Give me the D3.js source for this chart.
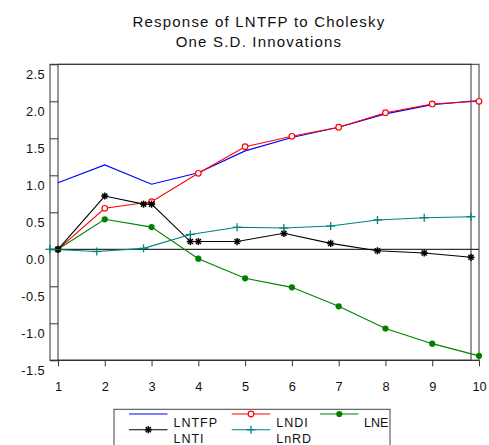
<!DOCTYPE html>
<html><head><meta charset="utf-8">
<script src="https://cdn.jsdelivr.net/npm/d3@7"></script>
<style>
body{margin:0;background:#fff;}
svg{display:block;font-family:"Liberation Sans",Arial,sans-serif;}
</style></head>
<body><svg id="c" width="489" height="445"></svg>
<script>
const periods = [1,2,3,4,5,6,7,8,9,10];
const yTicks = [-1.5,-1.0,-0.5,0.0,0.5,1.0,1.5,2.0,2.5];
const lntfp = [0.90,1.14,0.88,1.035,1.33,1.51,1.65,1.83,1.955,2.01];
const lndi  = [0.0,0.554,0.643,1.027,1.387,1.527,1.649,1.846,1.964,2.0];
const lne   = [0.0,0.405,0.30,-0.127,-0.392,-0.514,-0.77,-1.07,-1.275,-1.44];
const lnti  = [0.0,0.72,0.61,0.105,0.105,0.216,0.08,-0.02,-0.05,-0.108];
const lnrd  = [0.0,-0.03,0.013,0.20,0.297,0.288,0.315,0.396,0.427,0.44];
// which horizontal grid each LNTI point is drawn on (the picture has two offset frames)
const lntiGrid = ["main","main","both","both","lag","lag","lag","lag","lag","lag"];
const title = ["Response of LNTFP to Cholesky","One S.D. Innovations"];

const svg = d3.select("#c");
const y = d3.scaleLinear().domain([-1.5,2.5]).range([360.3,64.3]);
const xMain = d3.scaleLinear().domain([1,10]).range([58,479]);
const xLag = d3.scaleLinear().domain([1,10]).range([50,471]);
const frameCol = "#333";
const txtCol = "#111";

// title
svg.selectAll("text.title").data(title).enter().append("text")
  .attr("x",259).attr("y",(d,i)=>27.3+i*19.4).attr("text-anchor","middle")
  .attr("font-size",15).attr("letter-spacing",1.2).attr("fill",txtCol).text(d=>d);

// zero line
svg.append("line").attr("x1",50).attr("x2",479).attr("y1",y(0)).attr("y2",y(0))
  .attr("stroke","#000").attr("stroke-width",1);

// frames (two offset rectangles)
[xLag, xMain].forEach(s=>{
  svg.append("rect").attr("x",s(1)).attr("y",y(2.5)).attr("width",s(10)-s(1)).attr("height",y(-1.5)-y(2.5))
    .attr("fill","none").attr("stroke",frameCol).attr("stroke-width",1);
});
svg.append("line").attr("x1",50).attr("x2",479).attr("y1",y(-1.5)).attr("y2",y(-1.5)).attr("stroke",frameCol);

// y axis
const yAx = svg.append("g").attr("transform",`translate(50,0)`)
  .call(d3.axisLeft(y).tickValues(yTicks).tickSizeInner(-8).tickSizeOuter(0).tickPadding(5).tickFormat(d=>d.toFixed(1)));
yAx.select(".domain").remove();
yAx.selectAll("line").attr("stroke",frameCol);
yAx.selectAll("text").attr("dy","1.12em").attr("font-size",12.8).attr("letter-spacing",0.4)
  .attr("fill",txtCol).attr("font-family","Liberation Sans, Arial, sans-serif");

// x axis
const xAx = svg.append("g").attr("transform",`translate(0,${y(-1.5)})`)
  .call(d3.axisBottom(xMain).tickValues(periods).tickSizeInner(6).tickSizeOuter(0).tickPadding(16).tickFormat(d3.format("d")));
xAx.select(".domain").remove();
xAx.selectAll("line").attr("stroke",frameCol);
xAx.selectAll("text").attr("font-size",12.8).attr("fill",txtCol).attr("font-family","Liberation Sans, Arial, sans-serif");

// marker helpers
function asterisk(g,cx,cy,col){
  const r=3.6;
  [0,45,90,135].forEach(a=>{
    const t=a*Math.PI/180;
    g.append("line").attr("x1",cx-r*Math.cos(t)).attr("y1",cy-r*Math.sin(t))
      .attr("x2",cx+r*Math.cos(t)).attr("y2",cy+r*Math.sin(t))
      .attr("stroke",col).attr("stroke-width",1.5);
  });
}
function plus(g,cx,cy,col){
  g.append("line").attr("x1",cx-4.5).attr("x2",cx+4.5).attr("y1",cy).attr("y2",cy).attr("stroke",col).attr("stroke-width",1.3);
  g.append("line").attr("x1",cx).attr("x2",cx).attr("y1",cy-4).attr("y2",cy+4).attr("stroke",col).attr("stroke-width",1.3);
}
function openCircle(g,cx,cy,col){
  g.append("circle").attr("cx",cx).attr("cy",cy).attr("r",2.8).attr("fill","#fff").attr("stroke",col).attr("stroke-width",1.2);
}
function dot(g,cx,cy,col){
  g.append("circle").attr("cx",cx).attr("cy",cy).attr("r",3.1).attr("fill",col);
}

const line = d3.line().x(d=>d[0]).y(d=>d[1]);
const plot = svg.append("g");

function series(vals,xs,col,marker){
  const pts = vals.map((v,i)=>[xs(periods[i]),y(v)]);
  plot.append("path").attr("d",line(pts)).attr("fill","none").attr("stroke",col).attr("stroke-width",1.1);
  if(marker) pts.forEach(p=>marker(plot,p[0],p[1],col));
}
series(lntfp,xMain,"#0000ff",null);
series(lndi,xMain,"#ff0000",openCircle);
series(lne,xMain,"#008000",dot);

// LNTI: mixed grids
const lntiPts=[];
lnti.forEach((v,i)=>{
  const g=lntiGrid[i];
  if(g==="lag"||g==="both") lntiPts.push([xLag(periods[i]),y(v)]);
  if(g==="main"||g==="both") lntiPts.push([xMain(periods[i]),y(v)]);
});
plot.append("path").attr("d",line(lntiPts)).attr("fill","none").attr("stroke","#000").attr("stroke-width",1.1);
lntiPts.forEach(p=>asterisk(plot,p[0],p[1],"#000"));

series(lnrd,xLag,"#008080",plus);

// legend
const leg = svg.append("g");
leg.append("rect").attr("x",114).attr("y",409.3).attr("width",276).attr("height",60)
  .attr("fill","none").attr("stroke","#444").attr("stroke-width",1);
const legItems = [
  {name:"LNTFP",col:"#0000ff",m:null,x:129,row:0},
  {name:"LNDI",col:"#ff0000",m:openCircle,x:231.7,row:0},
  {name:"LNE",col:"#008000",m:dot,x:320,row:0},
  {name:"LNTI",col:"#000",m:asterisk,x:129,row:1},
  {name:"LnRD",col:"#008080",m:plus,x:231.7,row:1}
];
legItems.forEach(it=>{
  const ly = 414 + it.row*15.7;
  leg.append("line").attr("x1",it.x).attr("x2",it.x+38.5).attr("y1",ly).attr("y2",ly).attr("stroke",it.col).attr("stroke-width",1.1);
  if(it.m) it.m(leg,it.x+19.3,ly,it.col);
  leg.append("text").attr("x",it.x+38.5+(it.name==="LNE"?5.5:6)).attr("y",ly+13.3)
    .attr("font-size",12.5).attr("letter-spacing",it.name==="LNE"?0:1).attr("fill",txtCol).text(it.name);
});
</script></body></html>
